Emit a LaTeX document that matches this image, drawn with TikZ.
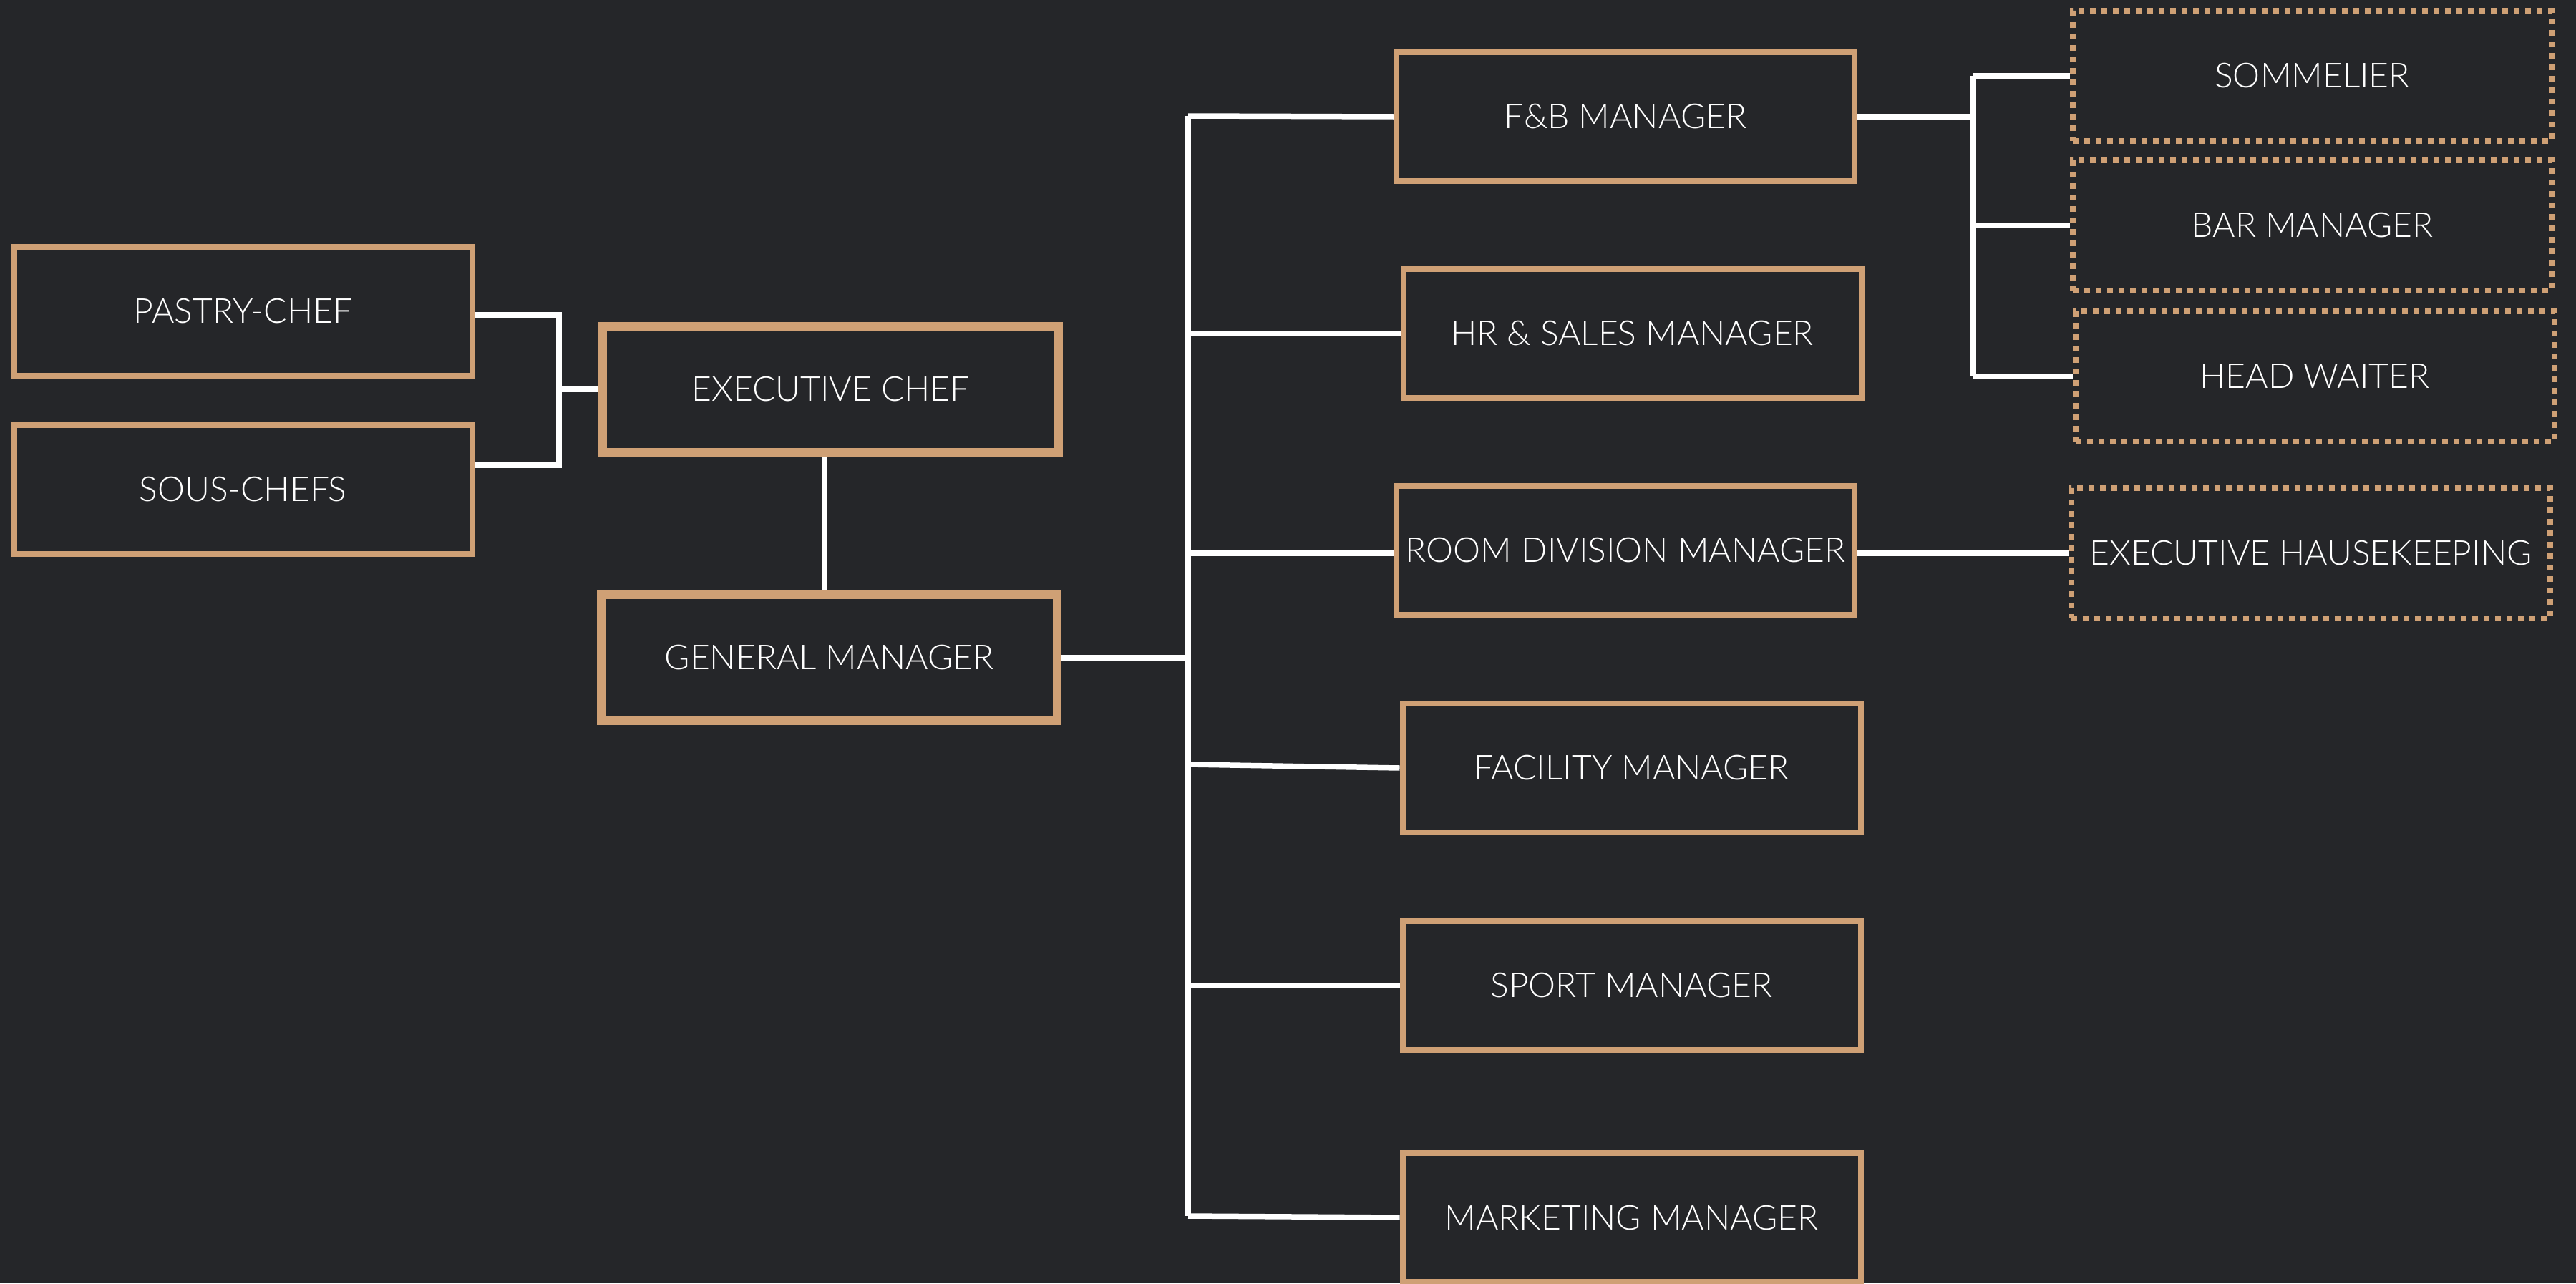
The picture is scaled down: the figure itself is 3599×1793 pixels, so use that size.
\documentclass[tikz,border=0pt]{standalone}
\usepackage{fontspec}
\setmainfont{Lato}[UprightFont=* Light]
\definecolor{bgc}{RGB}{37,38,41}
\definecolor{tanc}{RGB}{207,160,117}
\pgfdeclarelayer{back}
\pgfsetlayers{back,main}
\begin{document}
\begin{tikzpicture}[x=1pt,y=-1pt,
  box/.style={draw=tanc, line width=8pt, fill=bgc, minimum width=640pt, minimum height=180pt, inner sep=0pt, text=white, font=\fontsize{48}{56}\selectfont},
  bigbox/.style={box, line width=12pt, minimum width=637pt, minimum height=176pt},
  dbox/.style={box, dash pattern=on 8pt off 8pt, minimum width=669pt, minimum height=182pt},
  link/.style={draw=white, line width=7.5pt}]
\useasboundingbox (0,0) rectangle (3599,1793);
\begin{pgfonlayer}{back}
\fill[bgc] (0,0) rectangle (3599,1793);
\end{pgfonlayer}

\node[box] (pastry) at (339.5,435) {PASTRY-CHEF};
\node[box] (sous) at (339.5,683.5) {SOUS-CHEFS};
\node[bigbox] (ec) at (1160.5,544) {EXECUTIVE CHEF};
\node[bigbox] (gm) at (1158.5,919) {GENERAL MANAGER};
\node[box] (fb) at (2271,163) {F\&B MANAGER};
\node[box] (hr) at (2280.5,465.5) {HR \& SALES MANAGER};
\node[box] (rdm) at (2271,768.5) {ROOM DIVISION MANAGER};
\node[box] (fac) at (2279.5,1073) {FACILITY MANAGER};
\node[box] (sport) at (2279.5,1376.5) {SPORT MANAGER};
\node[box] (mkt) at (2279.5,1701) {MARKETING MANAGER};
\node[dbox] (som) at (3230.5,106) {SOMMELIER};
\node[dbox] (bar) at (3230.5,315) {BAR MANAGER};
\node[dbox] (hw) at (3234,526) {HEAD WAITER};
\node[dbox] (eh) at (3228.5,773) {EXECUTIVE HAUSEKEEPING};

\coordinate (lv1) at (781,440);
\coordinate (lv2) at (781,650);
\coordinate (ttop) at (1660,162);
\coordinate (tbot) at (1660,1699);
\coordinate (t4) at (1660,1068);
\coordinate (stop) at (2757,106);
\coordinate (sbot) at (2757,526);

\begin{pgfonlayer}{back}
\draw[link] ([yshift=-5pt]pastry.east) -- (lv1) -- (lv2) -- ([yshift=33.5pt]sous.east);
\draw[link] (ec.west -| lv1) -- (ec.west);
\draw[link] ([xshift=-8.5pt]ec.south) -- ([xshift=-6.5pt]gm.north);
\draw[link] (ttop) -- (tbot);
\draw[link] (gm.east) -- (gm.east -| ttop);
\draw[link] (ttop) -- (fb.west);
\draw[link] (hr.west -| ttop) -- (hr.west);
\draw[link] ([yshift=-4.5pt]rdm.west -| ttop) -- ([yshift=-4.5pt]rdm.west);
\draw[link] (t4) -- (fac.west);
\draw[link] (sport.west -| ttop) -- (sport.west);
\draw[link] (tbot) -- (mkt.west);
\draw[link] ([yshift=-4.5pt]rdm.east) -- (eh.west);
\draw[link] (stop) -- (sbot);
\draw[link] (fb.east) -- (fb.east -| stop);
\draw[link] (stop) -- (som.west);
\draw[link] (bar.west -| stop) -- (bar.west);
\draw[link] (sbot) -- (hw.west);
\end{pgfonlayer}
\end{tikzpicture}
\end{document}
